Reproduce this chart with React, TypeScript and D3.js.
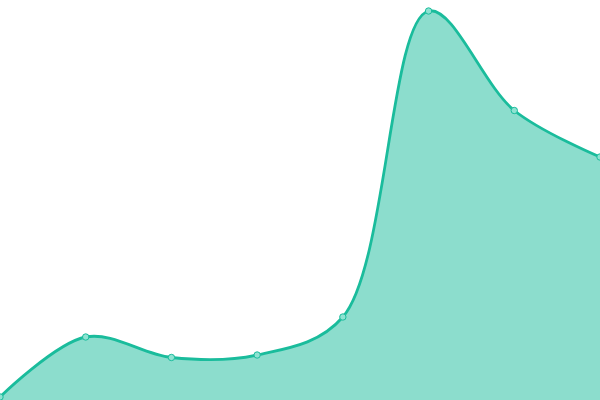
import { useRef, useEffect } from 'react';
import * as d3 from 'd3';

const categories = ['A', 'B', 'C', 'D', 'E', 'F', 'G', 'H'];
const values = [3, 63, 42.5, 45, 83, 389, 289.5, 243];

const WIDTH = 600;
const HEIGHT = 400;

export default function App() {
  const svgRef = useRef<SVGSVGElement>(null);

  useEffect(() => {
    if (!svgRef.current) return;
    const svg = d3.select(svgRef.current);
    svg.selectAll('*').remove();

    const xScale = d3.scalePoint<string>()
      .domain(categories)
      .range([0, WIDTH]);

    const yScale = d3.scaleLinear()
      .domain([0, 400])
      .range([HEIGHT, 0]);

    const data = categories.map((c, i) => ({ c, v: values[i] }));

    const curve = d3.curveCatmullRom.alpha(0.5);

    // Area under curve
    const area = d3.area<{ c: string; v: number }>()
      .x(d => xScale(d.c)!)
      .y0(yScale(0))
      .y1(d => yScale(d.v))
      .curve(curve);

    svg.append('path')
      .datum(data)
      .attr('fill', '#1abc9c')
      .attr('fill-opacity', 0.5)
      .attr('d', area);

    // Line
    const line = d3.line<{ c: string; v: number }>()
      .x(d => xScale(d.c)!)
      .y(d => yScale(d.v))
      .curve(curve);

    svg.append('path')
      .datum(data)
      .attr('fill', 'none')
      .attr('stroke', '#1abc9c')
      .attr('stroke-width', 2.8)
      .attr('d', line);

    // Points
    svg.selectAll('circle')
      .data(data)
      .enter()
      .append('circle')
      .attr('cx', d => xScale(d.c)!)
      .attr('cy', d => yScale(d.v))
      .attr('r', 3.2)
      .attr('fill', '#8ee3d2')
      .attr('stroke', '#1abc9c')
      .attr('stroke-width', 1);
  }, []);

  return (
    <svg
      ref={svgRef}
      width={WIDTH}
      height={HEIGHT}
      style={{ position: 'absolute', left: 0, top: 0, background: '#fff' }}
    />
  );
}
